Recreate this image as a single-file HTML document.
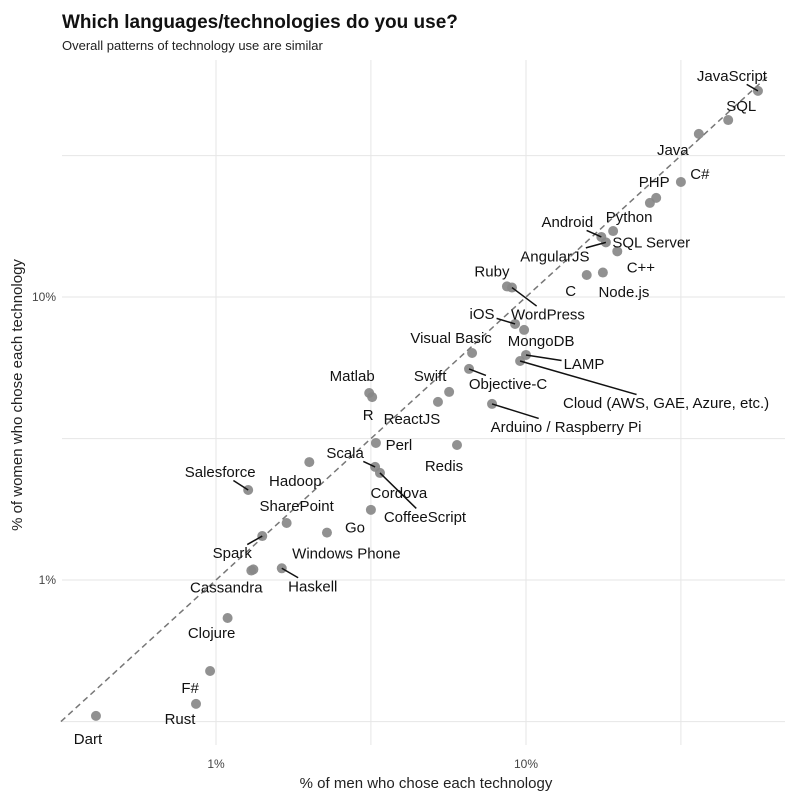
<!DOCTYPE html>
<html><head><meta charset="utf-8"><style>
body{margin:0;background:#fff;}
svg text{font-family:"Liberation Sans Narrow","Liberation Sans",sans-serif;}
</style></head><body>
<svg id="chart" width="800" height="800" xmlns="http://www.w3.org/2000/svg">
<rect width="800" height="800" fill="#fff"/>
<text x="62" y="28" font-size="19" font-weight="bold" fill="#111" style="font-family:'Liberation Sans',sans-serif">Which languages/technologies do you use?</text>
<text x="62" y="50" font-size="13" fill="#222">Overall patterns of technology use are similar</text>
<g id="grid"></g><g id="marks"></g>
<text x="426" y="788" font-size="15" text-anchor="middle" fill="#222">% of men who chose each technology</text>
<text transform="translate(22,395) rotate(-90)" font-size="15" text-anchor="middle" fill="#222">% of women who chose each technology</text>
</svg>
<script>
const names=["JavaScript","SQL","Java","C#","PHP","Node.js","Python","Android","AngularJS","SQL Server","C","C++","Ruby","WordPress","iOS","MongoDB","Visual Basic","LAMP","Cloud (AWS, GAE, Azure, etc.)","Swift","Objective-C","ReactJS","Arduino / Raspberry Pi","Matlab","R","Perl","Redis","Scala","CoffeeScript","Cordova","Hadoop","Salesforce","SharePoint","Go","Spark","Windows Phone","Cassandra","Haskell","Clojure","F#","Rust","Dart"];
const menPct=[56.0,44.9,36.1,31.6,26.3,25.1,19.1,17.5,18.1,19.7,15.7,17.7,8.68,9.01,9.22,9.86,6.70,10.0,9.57,5.65,6.55,5.20,7.77,3.12,3.19,3.28,5.99,3.26,3.38,3.16,2.0,1.27,1.69,2.28,1.41,1.32,1.30,1.63,1.09,0.957,0.862,0.410];
const womenPct=[53.5,42.2,37.7,25.5,22.4,21.5,17.1,16.3,15.6,14.5,11.96,12.2,10.9,10.8,8.03,7.65,6.34,6.24,5.94,4.62,5.57,4.26,4.19,4.58,4.43,3.05,3.00,2.51,2.39,1.77,2.61,2.08,1.59,1.47,1.43,1.09,1.08,1.10,0.734,0.477,0.365,0.331];
const labelDx=[-26,13,-26,19,-2,-26,16,-34,-51,34,-16,38,-15,36,-33,17,-21,58,146,-19,39,-26,74,-17,-4,23,-13,-30,45,28,-14,-28,10,28,-30,93,-25,31,-16,-20,-16,-8];
const labelDy=[-15,-14,16,-8,-16,89,-14,-15,14,-9,16,-5,-15,27,-10,11,-15,9,42,-16,15,17,23,-17,18,2,21,-14,44,-17,19,-18,-17,-5,17,-16,17,18,15,17,15,23];
const hasLeader=[1,0,0,0,0,0,0,1,1,0,0,0,0,1,1,0,0,1,1,0,1,0,1,0,0,0,0,1,1,0,0,1,0,0,1,0,0,1,0,0,0,0];
const xTicks=[1,10], xTickLabels=["1%","10%"];
const yTicks=[1,10], yTickLabels=["1%","10%"];
const minorTicks=[0.316,3.16,31.6];
const xs=v=>216+310*Math.log10(v), ys=v=>580-283*Math.log10(v);
const L=62,R=785,T=60,B=745;
const NS="http://www.w3.org/2000/svg";
const grid=document.getElementById('grid'), marks=document.getElementById('marks'), svg=document.getElementById('chart');
function mk(tag,attrs,parent){const e=document.createElementNS(NS,tag);for(const k in attrs)e.setAttribute(k,attrs[k]);parent.appendChild(e);return e;}
[...xTicks,...minorTicks].forEach(v=>{const x=xs(v);if(x<L||x>R)return;
 const l=mk('line',{x1:x,x2:x,y1:T,y2:B,stroke:'#e6e6e6','stroke-width':1},grid);
 
 });
[...yTicks,...minorTicks].forEach(v=>{const y=ys(v);if(y<T||y>B)return;
 const l=mk('line',{x1:L,x2:R,y1:y,y2:y,stroke:'#e6e6e6','stroke-width':1},grid);
 
 });
xTicks.forEach((v,i)=>{const t=mk('text',{x:xs(v),y:768,'font-size':12,'text-anchor':'middle',fill:'#444'},grid);t.textContent=xTickLabels[i];
 
 });
yTicks.forEach((v,i)=>{const t=mk('text',{x:56,y:ys(v)+4,'font-size':12,'text-anchor':'end',fill:'#444'},grid);t.textContent=yTickLabels[i];
 
 });
const d=mk('line',{x1:xs(0.316),y1:ys(0.316),x2:xs(60),y2:ys(60),stroke:'#777','stroke-width':1.5,'stroke-dasharray':'6,4'},marks);


names.forEach((n,i)=>{
 const px=xs(menPct[i]),py=ys(womenPct[i]);
 const c=mk('circle',{cx:px,cy:py,r:5,fill:'#888','fill-opacity':0.92},marks);
 
 
});
names.forEach((n,i)=>{
 const px=xs(menPct[i]),py=ys(womenPct[i]);
 const lx=px+labelDx[i],ly=py+labelDy[i];
 const t=mk('text',{x:lx,y:ly+5,'font-size':15,'text-anchor':'middle',fill:'#111'},marks);
 t.textContent=n;
 
 
 if(hasLeader[i]){
  const b=t.getBBox();const hw=b.width/2+2,hh=b.height/2;
  const dx=px-lx,dy=py-ly;
  const s=Math.min(Math.abs(dx)>0?hw/Math.abs(dx):1e9,Math.abs(dy)>0?hh/Math.abs(dy):1e9,1);
  const ln=mk('line',{x1:px,y1:py,x2:lx+dx*s,y2:ly+dy*s,stroke:'#111','stroke-width':1.5},marks);
  
  
 }
});
</script>
</body></html>
